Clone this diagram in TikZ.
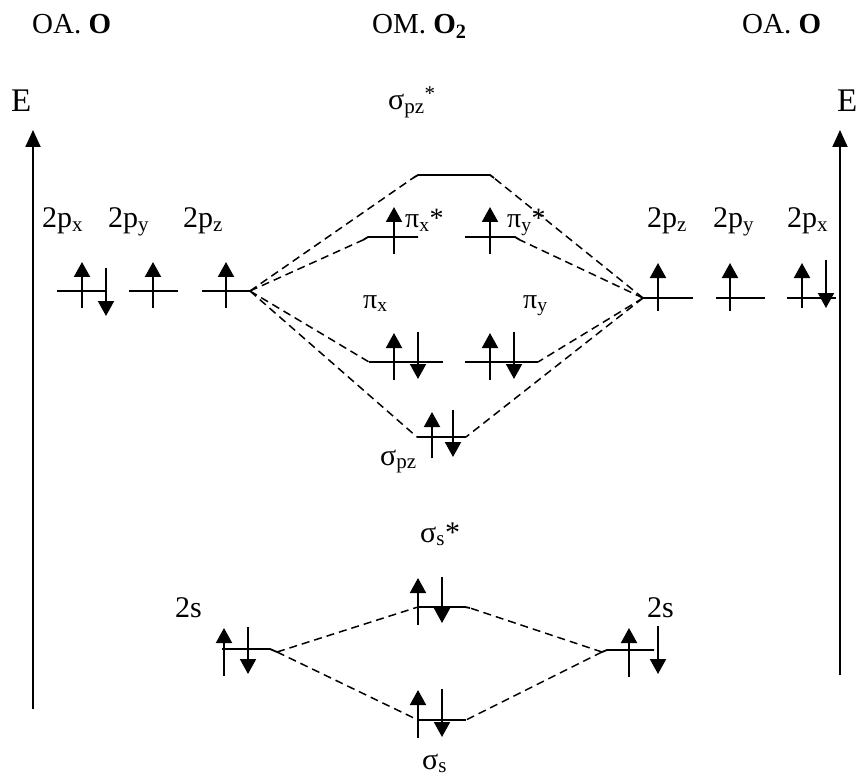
\documentclass[tikz,border=0pt]{standalone}
\usepackage{fontspec}
\setmainfont{Liberation Serif}
\usetikzlibrary{arrows.meta}
\begin{document}
\begin{tikzpicture}[x=1pt,y=-1pt,
  lvl/.style={line width=1.8pt},
  conn/.style={line width=1.5pt, dash pattern=on 8pt off 5pt},
  spin/.style={line width=2pt,-{Triangle[width=16pt,length=15pt]}},
  axis/.style={line width=2pt,-{Triangle[width=15pt,length=17pt]}},
  lab/.style={inner sep=0pt, anchor=base west, font=\fontsize{28}{32}\selectfont},
  plab/.style={lab, font=\fontsize{30}{34}\selectfont},
  slab/.style={lab, font=\fontsize{30}{34}\selectfont},
  title/.style={inner sep=0pt, anchor=base west, font=\fontsize{29}{34}\selectfont},
  elab/.style={inner sep=0pt, anchor=base west, font=\fontsize{33}{38}\selectfont}]
\useasboundingbox (0,0) rectangle (857,778);
% titles
\node[title] (tL) at (32,34) {OA. \textbf{O}};
\node[title] (tM) at (372,34) {OM. \textbf{O\textsubscript{2}}};
\node[title] (tR) at (742,34) {OA. \textbf{O}};
% axes
\coordinate (axLb) at (33,709); \coordinate (axLt) at (33,130);
\coordinate (axRb) at (840,675); \coordinate (axRt) at (840,130);
\draw[axis] (axLb) -- (axLt);
\draw[axis] (axRb) -- (axRt);
\node[elab] (EL) at (11,112) {E};
\node[elab] (ER) at (837,112) {E};
% atomic 2p left
\draw[lvl] (57,291) -- (106,291);
\draw[lvl] (129,291) -- (178,291);
\draw[lvl] (202,291) coordinate (pzL-l) -- (250,291) coordinate (pzL);
\draw[spin] (82,308) -- (82,262);
\draw[spin] (106,268) -- (106,316);
\draw[spin] (153,308) -- (153,262);
\draw[spin] (226,308) -- (226,262);
\node[plab] (pxL) at (42,228) {2p\textsubscript{x}};
\node[plab] (pyL) at (108,228) {2p\textsubscript{y}};
\node[plab] (pzLl) at (183,228) {2p\textsubscript{z}};
% atomic 2p right
\draw[lvl] (643,298) coordinate (pzR) -- (693,298);
\draw[lvl] (716,298) -- (765,298);
\draw[lvl] (787,298) -- (836,298);
\draw[spin] (658,311) -- (658,263);
\draw[spin] (730,311) -- (730,263);
\draw[spin] (802,308) -- (802,263);
\draw[spin] (826,260) -- (826,308);
\node[plab] (pzRl) at (647,228) {2p\textsubscript{z}};
\node[plab] (pyR) at (713,228) {2p\textsubscript{y}};
\node[plab] (pxR) at (787,228) {2p\textsubscript{x}};
% sigma pz*
\draw[lvl] (413,178) coordinate (spzs-l) -- (418,175) -- (490,175) -- (494,178) coordinate (spzs-r);
\node[lab, font=\fontsize{30}{34}\selectfont] (spzsl) at (388,110) {σ\textsubscript{pz}\textsuperscript{*}};
% pi*
\draw[lvl] (363,240) coordinate (pixs-l) -- (368,237) -- (418,237);
\draw[lvl] (465,237) -- (515,237) -- (520,240) coordinate (piys-r);
\draw[spin] (394,254) -- (394,207);
\draw[spin] (490,254) -- (490,207);
\node[lab] (pixsl) at (405,228) {π\textsubscript{x}*};
\node[lab] (piysl) at (507,228) {π\textsubscript{y}*};
% pi
\draw[lvl] (369,362) coordinate (pix-l) -- (443,362);
\draw[lvl] (465,362) -- (538,362) coordinate (piy-r);
\draw[spin] (394,380) -- (394,333);
\draw[spin] (418,332) -- (418,379);
\draw[spin] (490,380) -- (490,333);
\draw[spin] (514,332) -- (514,379);
\node[lab] (pixl) at (363,308) {π\textsubscript{x}};
\node[lab] (piyl) at (523,308) {π\textsubscript{y}};
% sigma pz
\draw[lvl] (417,437) coordinate (spz-l) -- (466,437) coordinate (spz-r);
\draw[spin] (432,458) -- (432,412);
\draw[spin] (453,410) -- (453,457);
\node[lab, font=\fontsize{30}{34}\selectfont] (spzl) at (380,465) {σ\textsubscript{pz}};
% 2p connectors
\draw[conn] (pzL) -- (spzs-l);
\draw[conn] (pzL) -- (pixs-l);
\draw[conn] (pzL) -- (pix-l);
\draw[conn] (pzL) -- (spz-l);
\draw[conn] (pzR) -- (spzs-r);
\draw[conn] (pzR) -- (piys-r);
\draw[conn] (pzR) -- (piy-r);
\draw[conn] (pzR) -- (spz-r);
% sigma s*
\draw[lvl] (418,607) coordinate (sss-l) -- (465,607) -- (470,608) coordinate (sss-r);
\draw[spin] (418,625) -- (418,578);
\draw[spin] (442,577) -- (442,623);
\node[lab, font=\fontsize{30}{34}\selectfont] (sssl) at (420,542) {σ\textsubscript{s}*};
% sigma s
\draw[lvl] (418,720) coordinate (ss-l) -- (466,720) coordinate (ss-r);
\draw[spin] (418,738) -- (418,690);
\draw[spin] (442,689) -- (442,737);
\node[lab, font=\fontsize{30}{34}\selectfont] (ssl) at (422,769) {σ\textsubscript{s}};
% 2s atomic
\draw[lvl] (222,649) -- (270,649) -- (277,652) coordinate (sL);
\draw[spin] (224,676) -- (224,628);
\draw[spin] (248,627) -- (248,674);
\node[slab] (sLl) at (175,617) {2s};
\draw[lvl] (602,652) coordinate (sR) -- (607,650) -- (654,650);
\draw[spin] (629,677) -- (629,628);
\draw[spin] (658,626) -- (658,674);
\node[slab] (sRl) at (647,617) {2s};
% 2s connectors
\draw[conn] (sL) -- (sss-l);
\draw[conn] (sL) -- (ss-l);
\draw[conn] (sR) -- (sss-r);
\draw[conn] (sR) -- (ss-r);
\end{tikzpicture}
\end{document}
